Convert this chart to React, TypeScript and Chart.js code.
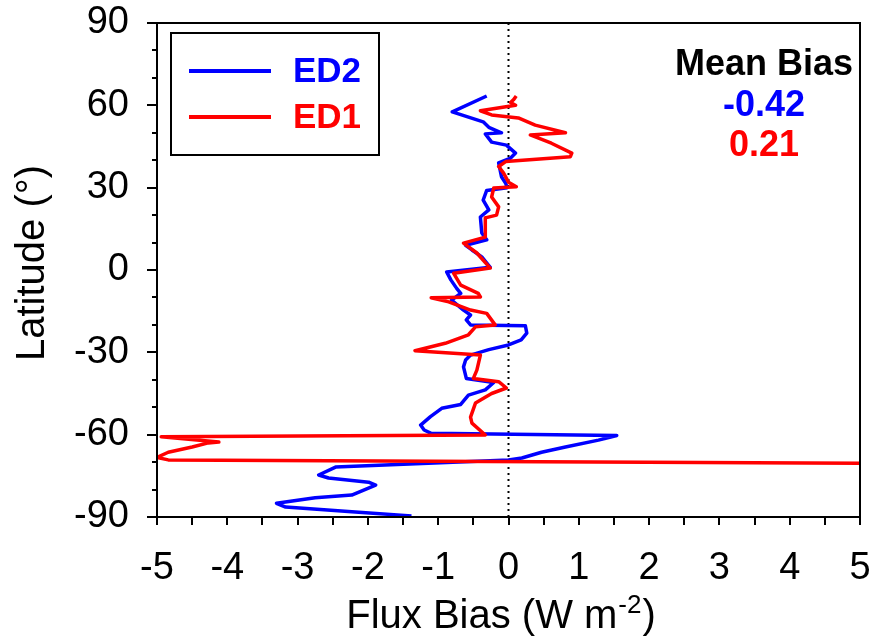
import React, { useEffect, useRef } from 'react';
import { Chart, registerables } from 'chart.js';

Chart.register(...registerables);

// ---------- data ----------
const ed2Lat = [
  63.4, 57.6, 54.0, 52.0, 50.0, 49.6, 46.6, 45.5, 42.6, 40.8, 39.0, 34.0, 31.6, 30.0,
  29.0, 25.5, 21.9, 19.3, 13.5, 11.0, 9.0, 7.3, 4.8, 1.0, -0.7, -3.6, -6.6, -8.5,
  -11.0, -14.6, -16.4, -18.2, -20.0, -20.3, -23.0, -25.5, -27.3, -29.0, -31.0, -32.8,
  -35.3, -39.5, -41.0, -43.7, -45.6, -49.0, -50.4, -53.4, -56.5, -58.3, -59.5, -60.3,
  -62.0, -64.5, -66.4, -68.5, -69.2, -71.8, -74.7, -75.8, -77.3, -78.4, -82.0, -83.0,
  -85.0, -86.4, -88.2, -89.6,
];
const ed2Bias = [
  -0.31, -0.8, -0.36, -0.28, -0.1, -0.33, -0.24, -0.03, 0.1, 0.03, -0.14, -0.1, -0.04, -0.02,
  -0.31, -0.36, -0.28, -0.4, -0.38, -0.31, -0.61, -0.52, -0.38, -0.26, -0.88, -0.82, -0.74, -0.68,
  -0.81, -0.64, -0.54, -0.6, -0.54, 0.24, 0.26, 0.18, 0.0, -0.28, -0.54, -0.61,
  -0.64, -0.6, -0.21, -0.33, -0.57, -0.68, -0.95, -1.11, -1.25, -1.2, -1.1, 1.54,
  1.28, 0.81, 0.47, 0.19, 0.0, -2.46, -2.7, -2.56, -1.99, -1.89, -2.23, -2.75,
  -3.3, -3.17, -2.18, -1.38,
];
const ed1Lat = [
  63.4, 62.0, 61.0, 60.0, 58.0, 56.5, 55.4, 52.8, 50.0, 49.2, 46.2, 42.6, 41.3, 39.5,
  37.7, 35.3, 32.0, 30.3, 29.9, 26.6, 23.0, 20.0, 19.0, 12.0, 9.8, 6.2, 0.7, -1.2,
  -5.5, -8.5, -9.8, -10.1, -11.6, -14.6, -15.8, -20.0, -20.7, -23.6, -26.7, -29.4,
  -31.0, -36.5, -39.5, -40.7, -43.0, -45.0, -48.5, -53.6, -55.8, -60.1, -60.8, -62.7,
  -63.0, -64.5, -66.4, -68.3, -69.2, -70.4,
];
const ed1Bias = [
  0.11, 0.07, 0.03, 0.1, -0.4, -0.24, 0.14, 0.38, 0.81, 0.31, 0.61, 0.9, 0.88, -0.04,
  -0.14, -0.07, 0.0, 0.11, -0.21, -0.24, -0.14, -0.17, -0.33, -0.33, -0.64, -0.45, -0.26, -0.78,
  -0.68, -0.43, -0.4, -1.1, -0.85, -0.54, -0.31, -0.19, -0.47, -0.57, -0.9, -1.33,
  -0.4, -0.45, -0.5, -0.14, -0.03, -0.24, -0.47, -0.54, -0.52, -0.33, -4.94, -4.12,
  -4.27, -4.5, -4.84, -5.0, -4.84, 5.0,
];

const seriesNames = ['ED2', 'ED1'];
const seriesColors = ['#0000ff', '#ff0000'];
const meanBiasTitle = 'Mean Bias';
const meanBiasValues = ['-0.42', '0.21'];

const xTickValues = [-5, -4, -3, -2, -1, 0, 1, 2, 3, 4, 5];
const xMinorStep = 0.5;
const yTickValues = [-90, -60, -30, 0, 30, 60, 90];
const yMinorStep = 10;

const xTitleMain = 'Flux Bias (W m';
const xTitleSup = '-2';
const xTitleEnd = ')';
const yTitle = 'Latitude (°)';

const FONT = '"Liberation Sans", Arial, Helvetica, sans-serif';

const decorPlugin = {
  id: 'decor',
  beforeDatasetsDraw(chart: any) {
    const { ctx, chartArea, scales } = chart;
    const x0 = scales.x.getPixelForValue(0);
    ctx.save();
    ctx.strokeStyle = '#000';
    ctx.lineWidth = 2;
    ctx.setLineDash([2, 4]);
    ctx.beginPath();
    ctx.moveTo(x0, chartArea.top);
    ctx.lineTo(x0, chartArea.bottom);
    ctx.stroke();
    ctx.restore();
  },
  afterDraw(chart: any) {
    const { ctx, chartArea, scales } = chart;
    const { left, right, top, bottom } = chartArea;
    ctx.save();
    // frame
    ctx.strokeStyle = '#000';
    ctx.lineWidth = 2;
    ctx.strokeRect(left, top, right - left, bottom - top);

    // ticks
    ctx.beginPath();
    for (let v = -90; v <= 90 + 1e-9; v += yMinorStep) {
      const py = Math.round(scales.y.getPixelForValue(v));
      const major = yTickValues.includes(v);
      ctx.moveTo(left, py);
      ctx.lineTo(left - (major ? 10 : 5), py);
    }
    for (let v = -5; v <= 5 + 1e-9; v += xMinorStep) {
      const px = Math.round(scales.x.getPixelForValue(v));
      ctx.moveTo(px, bottom);
      ctx.lineTo(px, bottom + 8);
    }
    ctx.stroke();

    // x title with superscript
    ctx.fillStyle = '#000';
    ctx.textBaseline = 'alphabetic';
    ctx.textAlign = 'left';
    const mainFont = `40px ${FONT}`;
    const supFont = `26px ${FONT}`;
    ctx.font = mainFont;
    const w1 = ctx.measureText(xTitleMain).width;
    const w3 = ctx.measureText(xTitleEnd).width;
    ctx.font = supFont;
    const w2 = ctx.measureText(xTitleSup).width;
    const total = w1 + w2 + w3;
    const cx = 500;
    let sx = cx - total / 2;
    const base = 628;
    ctx.font = mainFont;
    ctx.fillText(xTitleMain, sx, base);
    sx += w1;
    ctx.font = supFont;
    ctx.fillText(xTitleSup, sx + 1, base - 15);
    sx += w2 + 2;
    ctx.font = mainFont;
    ctx.fillText(xTitleEnd, sx, base);

    // y title
    ctx.save();
    ctx.translate(44, 263);
    ctx.rotate(-Math.PI / 2);
    ctx.textAlign = 'center';
    ctx.textBaseline = 'alphabetic';
    ctx.font = `40px ${FONT}`;
    ctx.fillText(yTitle, 0, 0);
    ctx.restore();

    // legend box
    ctx.lineWidth = 2;
    ctx.strokeStyle = '#000';
    ctx.strokeRect(171, 33, 208, 122);
    const rows = [71, 117];
    seriesNames.forEach((name, i) => {
      ctx.strokeStyle = seriesColors[i];
      ctx.lineWidth = 4;
      ctx.beginPath();
      ctx.moveTo(189, rows[i]);
      ctx.lineTo(271, rows[i]);
      ctx.stroke();
      ctx.fillStyle = seriesColors[i];
      ctx.font = `bold 35px ${FONT}`;
      ctx.textAlign = 'left';
      ctx.textBaseline = 'middle';
      ctx.fillText(name, 293, rows[i] + 1);
    });

    // mean bias
    ctx.textAlign = 'center';
    ctx.textBaseline = 'middle';
    ctx.font = `bold 36px ${FONT}`;
    ctx.fillStyle = '#000';
    ctx.fillText(meanBiasTitle, 764, 65);
    meanBiasValues.forEach((v, i) => {
      ctx.fillStyle = seriesColors[i];
      ctx.fillText(v, 764, 106 + i * 40);
    });
    ctx.restore();
  },
};

export default function App() {
  const ref = useRef<HTMLCanvasElement | null>(null);
  useEffect(() => {
    document.body.style.margin = '0';
    const canvas = ref.current;
    if (!canvas) return;
    const chart = new Chart(canvas, {
      type: 'scatter',
      data: {
        datasets: [
          {
            label: seriesNames[0],
            data: ed2Lat.map((lat, i) => ({ x: ed2Bias[i], y: lat })),
            showLine: true,
            borderColor: seriesColors[0],
            backgroundColor: seriesColors[0],
            borderWidth: 3.5,
            borderJoinStyle: 'round',
            pointRadius: 0,
            tension: 0,
            order: 1,
          },
          {
            label: seriesNames[1],
            data: ed1Lat.map((lat, i) => ({ x: ed1Bias[i], y: lat })),
            showLine: true,
            borderColor: seriesColors[1],
            backgroundColor: seriesColors[1],
            borderWidth: 3.5,
            borderJoinStyle: 'round',
            pointRadius: 0,
            tension: 0,
            order: 0,
          },
        ],
      },
      options: {
        animation: false,
        responsive: false,
        maintainAspectRatio: false,
        layout: { padding: { top: 23, right: 15, left: 0, bottom: 0 } },
        plugins: {
          legend: { display: false },
          tooltip: { enabled: false },
          title: { display: false },
        },
        scales: {
          x: {
            type: 'linear',
            min: -5,
            max: 5,
            afterBuildTicks: (s: any) => {
              s.ticks = xTickValues.map((v) => ({ value: v }));
            },
            afterFit: (s: any) => {
              s.height = 123;
              s.paddingLeft = 0;
              s.paddingRight = 0;
              s.paddingTop = 0;
              s.paddingBottom = 0;
            },
            ticks: {
              font: { family: FONT, size: 38 },
              color: '#000',
              padding: 21,
              maxRotation: 0,
              minRotation: 0,
              autoSkip: false,
              callback: (v: any) => String(v),
            },
            grid: { display: false, drawTicks: true, tickLength: 8 },
            border: { display: false },
          },
          y: {
            type: 'linear',
            min: -90,
            max: 90,
            afterBuildTicks: (s: any) => {
              s.ticks = yTickValues.map((v) => ({ value: v }));
            },
            afterFit: (s: any) => {
              s.width = 157;
              s.paddingLeft = 0;
              s.paddingRight = 0;
              s.paddingTop = 0;
              s.paddingBottom = 0;
            },
            ticks: {
              font: { family: FONT, size: 38 },
              color: '#000',
              padding: 18,
              autoSkip: false,
              callback: (v: any) => String(v),
            },
            grid: { display: false, drawTicks: true, tickLength: 10 },
            border: { display: false },
          },
        },
      } as any,
      plugins: [decorPlugin],
    });
    return () => chart.destroy();
  }, []);
  return <canvas ref={ref} width={875} height={640} style={{ display: 'block' }} />;
}
